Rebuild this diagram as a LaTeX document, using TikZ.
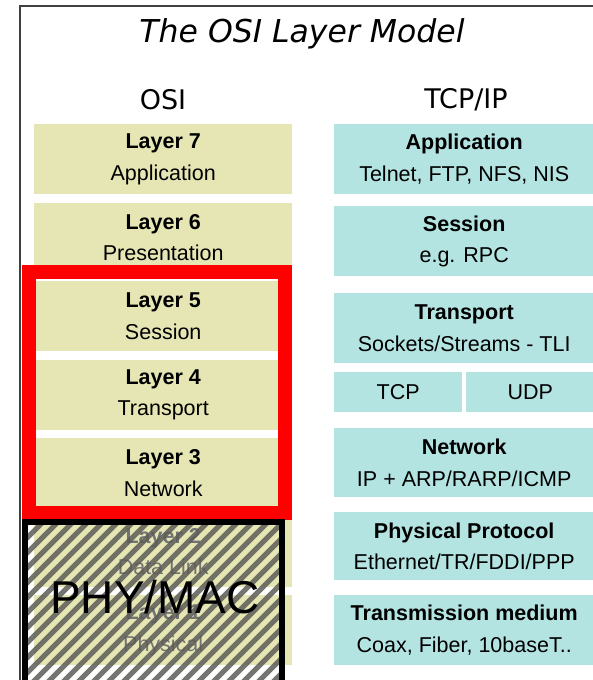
\documentclass[tikz,border=0pt]{standalone}
\usepackage{fontspec}
\setmainfont{Liberation Sans}
\newfontfamily\headfont{DejaVu Sans}[ItalicFont={DejaVu Sans Oblique}]
\definecolor{osikhaki}{HTML}{E6E6B4}
\definecolor{tcpteal}{HTML}{B3E4E2}
\definecolor{hatchgray}{HTML}{5C5C58}
\begin{document}
\begin{tikzpicture}[x=1pt,y=-1pt,
  osibox/.style={fill=osikhaki, minimum width=258pt, minimum height=70pt, anchor=north west, inner sep=0pt, align=center, font=\fontsize{21.5}{31.5}\selectfont},
  tcpbox/.style={fill=tcpteal, minimum width=260pt, minimum height=70pt, anchor=north west, inner sep=0pt, align=center, font=\fontsize{21.5}{31.5}\selectfont},
  head/.style={font=\headfont\fontsize{27}{32}\selectfont},
  faded/.style={text=black!55}]
\useasboundingbox (0,0) rectangle (593,680);
\fill[white] (0,0) rectangle (593,680);
\draw[black!75, line width=2pt] (20,700) -- (20,6) -- (610,6);

\node[font=\headfont\itshape\fontsize{31.5}{36}\selectfont] (title) at (302,34) {The OSI Layer Model};
\node[head] (osihd) at (163,100) {OSI};
\node[head] (tcphd) at (466,100) {TCP/IP};

\foreach \n/\name/\y in {7/Application/124, 6/Presentation/202.5, 5/Session/281, 4/Transport/359.5, 3/Network/438}
  \node[osibox] (osi\n) at (34,\y) {\textbf{Layer \n}\\\name};
\node[osibox, faded] (osi2) at (34,516.5) {\textbf{Layer 2}\\Data Link};
\node[osibox, faded] (osi1) at (34,595) {\textbf{Layer 1}\\Physical};

\node[tcpbox] (app) at (334,124) {\textbf{Application}\\Telnet, FTP, NFS, NIS};
\node[tcpbox] (ses) at (334,206) {\textbf{Session}\\e.g. RPC};
\node[tcpbox] (trans) at (334,293) {\textbf{Transport}\\Sockets/Streams - TLI};
\node[tcpbox, minimum width=128pt, minimum height=40pt] (tcp) at (334,372) {TCP};
\node[tcpbox, minimum width=128pt, minimum height=40pt] (udp) at (466,372) {UDP};
\node[tcpbox, minimum height=69pt] (net) at (334,428) {\textbf{Network}\\IP + ARP/RARP/ICMP};
\node[tcpbox, minimum height=68pt] (phys) at (334,512) {\textbf{Physical Protocol}\\Ethernet/TR/FDDI/PPP};
\node[tcpbox] (medium) at (334,595) {\textbf{Transmission medium}\\Coax, Fiber, 10baseT..};

\draw[red, line width=14pt] (28.5,272) rectangle (285,512.5);

\begin{scope}
\clip (28,525) rectangle (279,700);
\foreach \s in {-240,-225,...,300}
  \draw[hatchgray, line width=5pt, opacity=0.85] (\s,700) -- ++(260,-260);
\end{scope}
\draw[line width=6pt] (25,710) -- (25,522) -- (282,522) -- (282,710);
\node[font=\fontsize{46}{50}\selectfont] (phymac) at (155,597) {PHY/MAC};
\end{tikzpicture}
\end{document}
